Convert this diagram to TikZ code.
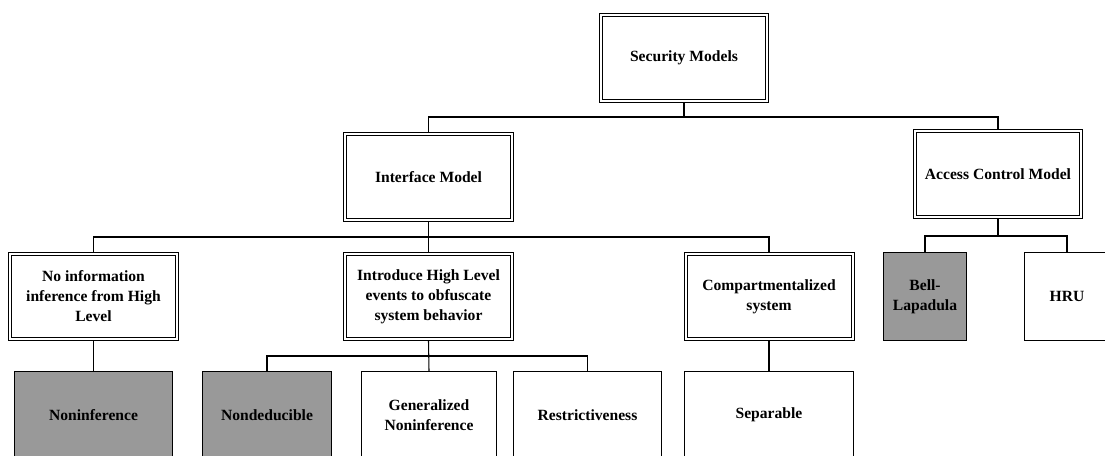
\documentclass[tikz,border=0pt]{standalone}
\usepackage{fontspec}
\setmainfont{Liberation Serif}
\begin{document}
\begin{tikzpicture}[x=0.75pt, y=-0.75pt,
  every node/.style={font=\fontsize{11.7pt}{15pt}\selectfont\bfseries, align=center, inner sep=0pt},
  dblbox/.style={draw, double, double distance=1.5pt, line width=0.75pt, fill=white, outer sep=1.5pt},
  leafbox/.style={draw, line width=0.8pt, fill=white},
  shaded/.style={leafbox, fill=leafgray},
  link/.style={line width=0.8pt}]
\definecolor{leafgray}{RGB}{153,153,153}
\useasboundingbox (0,0) rectangle (1105,455);
\clip (0,0) rectangle (1105,455);
\fill[white] (0,0) rectangle (1105,455);

% root and first level
\node[dblbox, minimum width=124.5pt, minimum height=64.5pt] (sec) at (684,58) {Security Models};
\node[dblbox, minimum width=125.25pt, minimum height=64.5pt] (iface) at (428.5,177) {Interface Model};
\node[dblbox, minimum width=124.5pt, minimum height=64.5pt] (acm) at (998,174) {Access Control Model};

% second level
\node[dblbox, minimum width=125.25pt, minimum height=63.75pt] (noinfo) at (93.5,296.5) {No information\\inference from High\\Level};
\node[dblbox, minimum width=125.25pt, minimum height=63.75pt] (intro) at (428.5,296.5) {Introduce High Level\\events to obfuscate\\system behavior};
\node[dblbox, minimum width=125.25pt, minimum height=63.75pt] (comp) at (769,296.5) {Compartmentalized\\system};
\node[shaded, minimum width=62.25pt, minimum height=66pt] (bell) at (925,296.5) {Bell-\\Lapadula};
\node[leafbox, minimum width=63.75pt, minimum height=66pt] (hru) at (1067,296.5) {HRU};

% third level
\node[shaded, minimum width=118.5pt, minimum height=65.25pt] (noninf) at (93.5,415) {Noninference};
\node[shaded, minimum width=96.75pt, minimum height=65.25pt] (nonded) at (267,415) {Nondeducible};
\node[leafbox, minimum width=101.25pt, minimum height=65.25pt] (gen) at (429,415) {Generalized\\Noninference};
\node[leafbox, minimum width=111pt, minimum height=65.25pt] (restr) at (587.5,415) {Restrictiveness};
\node[leafbox, minimum width=126.75pt, minimum height=65.25pt] (sep) at (769,415) {Separable};

% bus heights of the tree connectors
\coordinate (busA) at (0,117);
\coordinate (busB) at (0,237);
\coordinate (busC) at (0,236);
\coordinate (busD) at (0,356);

\draw[link] (sec.south) -- (sec.south |- busA) -| (iface.north);
\draw[link] (sec.south) -- (sec.south |- busA) -| (acm.north);

\draw[link] (iface.south) -- (iface.south |- busB) -| (noinfo.north);
\draw[link] (iface.south) -- (intro.north);
\draw[link] (iface.south) -- (iface.south |- busB) -| (comp.north);

\draw[link] (acm.south) -- (acm.south |- busC) -| (bell.north);
\draw[link] (acm.south) -- (acm.south |- busC) -| (hru.north);

\draw[link] (noinfo.south) -- (noninf.north);
\draw[link] (intro.south) -- (intro.south |- busD) -| (nonded.north);
\draw[link] (intro.south) -- (gen.north);
\draw[link] (intro.south) -- (intro.south |- busD) -| (restr.north);
\draw[link] (comp.south) -- (sep.north);
\end{tikzpicture}
\end{document}
